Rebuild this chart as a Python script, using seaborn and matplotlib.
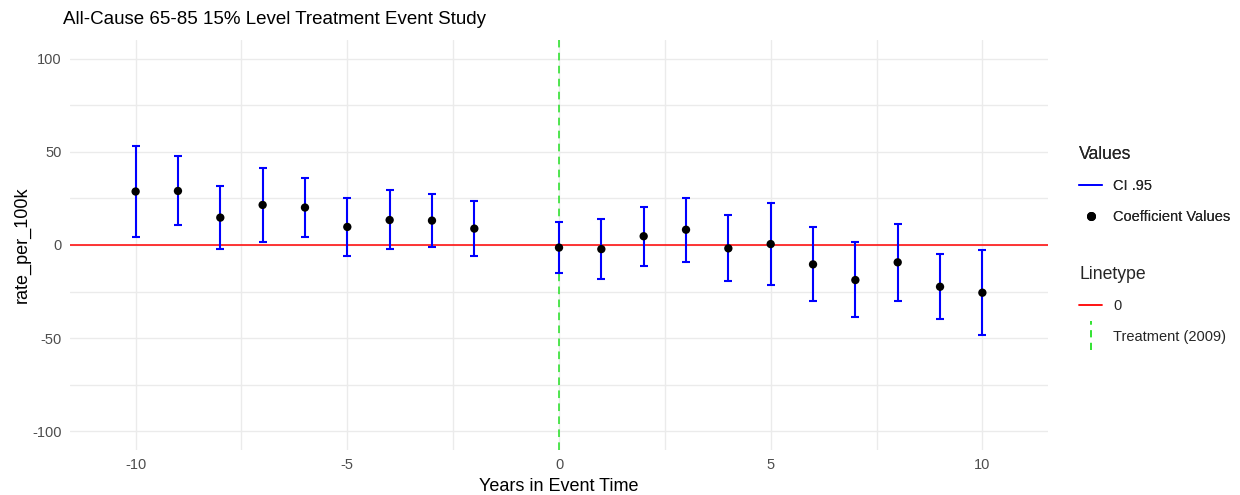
import numpy as np
import pandas as pd
import matplotlib
matplotlib.use("Agg")
import matplotlib.pyplot as plt
from matplotlib.lines import Line2D
from matplotlib.legend_handler import HandlerBase
import seaborn as sns

# event-study coefficients
years = [-10, -9, -8, -7, -6, -5, -4, -3, -2, 0, 1, 2, 3, 4, 5, 6, 7, 8, 9, 10]
coef = [28.7, 29.0, 14.7, 21.5, 20.1, 9.7, 13.4, 13.1, 8.8,
        -1.4, -2.2, 4.7, 8.2, -1.8, 0.5, -10.4, -18.8, -9.3, -22.4, -25.6]
ci_low = [4.1, 10.6, -2.2, 1.8, 4.5, -5.9, -2.3, -1.1, -5.9,
          -15.2, -18.1, -11.5, -9.0, -19.4, -21.5, -30.3, -38.7, -29.9, -39.6, -48.4]
ci_high = [53.2, 47.5, 31.5, 41.4, 35.8, 25.4, 29.4, 27.4, 23.7,
           12.2, 13.8, 20.6, 25.4, 16.0, 22.8, 9.5, 1.6, 11.3, -5.0, -2.5]
treat_year = 0
title = "All-Cause 65-85 15% Level Treatment Event Study"

df = pd.DataFrame({"year": years, "coef": coef, "lo": ci_low, "hi": ci_high})

sns.set_theme(style="white")
plt.rcParams["font.family"] = ["Liberation Sans", "DejaVu Sans"]
plt.rcParams["axes.unicode_minus"] = False

fig = plt.figure(figsize=(12.4, 4.95), dpi=100)
ax = fig.add_axes([70 / 1240, 45 / 495, 978 / 1240, 410 / 495])

grid_col = "#EBEBEB"
for v in [-100, -75, -50, -25, 0, 25, 50, 75, 100]:
    ax.axhline(v, color=grid_col, lw=1.0, zorder=0)
for v in [-10, -7.5, -5, -2.5, 0, 2.5, 5, 7.5, 10]:
    ax.axvline(v, color=grid_col, lw=1.0, zorder=0)

ax.axhline(0, color="red", lw=1.1, zorder=2)
ax.axvline(treat_year, color="#22E022", lw=1.1, ls=(0, (5, 3.5)), zorder=2)

ax.errorbar(df["year"], df["coef"],
            yerr=[df["coef"] - df["lo"], df["hi"] - df["coef"]],
            fmt="none", ecolor="#0000FF", elinewidth=1.5, capsize=3, capthick=1.5, zorder=3)
sns.scatterplot(data=df, x="year", y="coef", color="black", s=36, edgecolor="none",
                ax=ax, zorder=4, legend=False)

ax.set_xlim(-11.55, 11.55)
ax.set_ylim(-110, 110)
ax.set_xticks([-10, -5, 0, 5, 10])
ax.set_yticks([-100, -50, 0, 50, 100])
ax.tick_params(length=0, labelsize=10.5, labelcolor="#4D4D4D", pad=6)
for s in ax.spines.values():
    s.set_visible(False)
ax.set_xlabel("Years in Event Time", fontsize=13, color="black", labelpad=4)
ax.set_ylabel("rate_per_100k", fontsize=13, color="black", labelpad=1)

fig.text(63 / 1240, 1 - 20 / 495, title, fontsize=13.5, va="center", ha="left",
         color="black")


class VDashHandler(HandlerBase):
    def create_artists(self, legend, orig, xdescent, ydescent, width, height, fontsize, trans):
        x = width / 2 - xdescent
        ln = Line2D([x, x], [-height * 0.9, height * 1.9], color="#22E022", lw=1.3,
                    ls=(0, (4, 3)), transform=trans)
        return [ln]


vdash = Line2D([], [])
h1 = [Line2D([], [], color="#0000FF", lw=1.3),
      Line2D([], [], color="black", marker="o", ls="none", markersize=5.5)]
leg1 = fig.legend(h1, ["CI .95", "Coefficient Values"], title="Values",
                  loc="upper left", bbox_to_anchor=(1066 / 1240, 1 - 133 / 495),
                  frameon=False, fontsize=10.5, title_fontsize=12.7,
                  handlelength=1.6, handletextpad=0.75, labelspacing=1.12,
                  alignment="left")
leg2 = fig.legend([Line2D([], [], color="red", lw=1.3), vdash],
                  ["0", "Treatment (2009)"], title="Linetype",
                  loc="upper left", bbox_to_anchor=(1066 / 1240, 1 - 253 / 495),
                  frameon=False, fontsize=10.5, title_fontsize=12.7,
                  handlelength=1.6, handletextpad=0.75, labelspacing=1.12,
                  alignment="left", handler_map={vdash: VDashHandler()})
fig.add_artist(leg1)

fig.savefig("out.png", dpi=100)
